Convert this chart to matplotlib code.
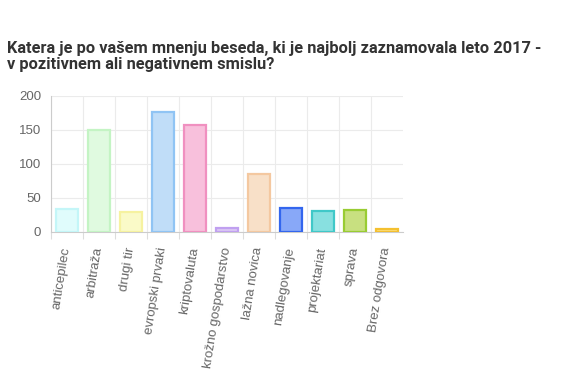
import numpy as np
import matplotlib
matplotlib.use("Agg")
import matplotlib.pyplot as plt

# data
words = ["anticepilec", "arbitraža", "drugi tir", "evropski prvaki", "kriptovaluta",
         "krožno gospodarstvo", "lažna novica", "nadlegovanje", "projektariat",
         "sprava", "Brez odgovora"]
counts = [34, 150, 30, 176, 157, 6, 85, 36, 31, 32, 4]
fill_colors = ["#e0fcfc", "#e0fae0", "#fafac8", "#c0ddf8", "#f8c0dc", "#dcc8f4",
               "#f8e0c8", "#88a8f8", "#88e0e0", "#c8e080", "#fce080"]
edge_colors = ["#c4f6f8", "#c4f4c4", "#f6f2a0", "#90c4f4", "#f090c0", "#c0a0f0",
               "#f4c8a0", "#3366ee", "#40c8c8", "#99cc33", "#f4c030"]
title = "Katera je po vašem mnenju beseda, ki je najbolj zaznamovala leto 2017 -\nv pozitivnem ali negativnem smislu?"

plt.rcParams['font.family'] = ['Liberation Sans', 'DejaVu Sans']

fig = plt.figure(figsize=(5.73, 3.78), dpi=100)
ax = fig.add_axes([50.7 / 573, 1 - 232 / 378, 352 / 573, 136 / 378])

x = np.arange(len(words))
ax.bar(x, counts, width=0.68, color=fill_colors, edgecolor=edge_colors, linewidth=1.6, zorder=3)

ax.set_xlim(-0.5, len(words) - 0.5)
ax.set_ylim(0, 200)
ax.set_yticks([0, 50, 100, 150, 200])

# grid at category boundaries, labels at category centres
ax.set_xticks(np.arange(-0.5, len(words) - 0.5, 1), minor=False)
ax.set_xticklabels([])
ax.set_xticks(x, minor=True)
ax.set_xticklabels(words, minor=True, rotation=81, rotation_mode='anchor',
                   ha='right', va='center', color='#666666', fontsize=9.5)
ax.tick_params(axis='x', which='minor', length=0, pad=11)
ax.tick_params(axis='x', which='major', length=5, color='#dddddd')
ax.tick_params(axis='y', length=0, pad=7, labelsize=9.5, labelcolor='#666666')

ax.grid(True, which='major', color='#ebebeb', linewidth=0.8, zorder=0)
for s in ['top', 'right']:
    ax.spines[s].set_visible(False)
ax.spines['left'].set_color('#cccccc')
ax.spines['bottom'].set_color('#cccccc')

fig.text(7 / 573, 1 - 41 / 378, title, fontsize=11.8, fontweight='bold',
         family=['Roboto', 'DejaVu Sans'], color='#333333', va='top', ha='left',
         linespacing=1.05)

fig.savefig("out.png", dpi=100)
